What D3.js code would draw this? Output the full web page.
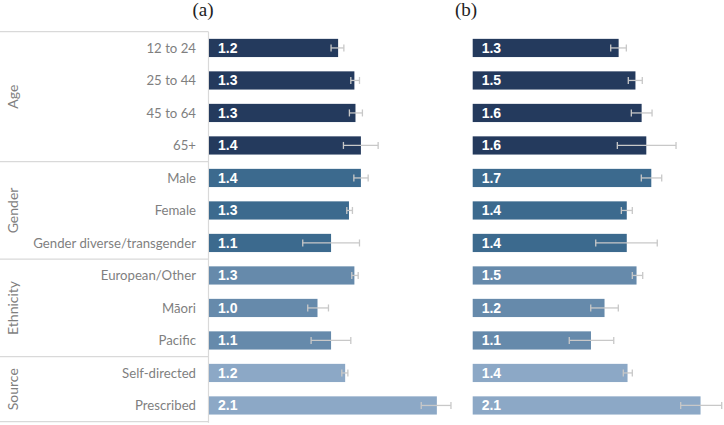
<!DOCTYPE html>
<html>
<head>
<meta charset="utf-8">
<script src="https://cdn.jsdelivr.net/npm/d3@7"></script>
<style>
  body { margin: 0; background: #fff; }
  .cat { font-family: Lato, "Open Sans", sans-serif; font-size: 13.2px; fill: #7f7f7f; }
  .grp { font-family: Lato, "Open Sans", sans-serif; font-size: 14px; fill: #7f7f7f; }
  .val { font-family: "Liberation Sans", Arial, sans-serif; font-size: 14px; font-weight: bold; fill: #fff; }
  .ttl { font-family: "Liberation Serif", "Times New Roman", serif; font-size: 19px; fill: #222; }
</style>
</head>
<body>
<svg id="chart" width="724" height="425"></svg>
<script>
// categories, top to bottom
const categories = ["12 to 24", "25 to 44", "45 to 64", "65+", "Male", "Female",
  "Gender diverse/transgender", "European/Other", "Māori", "Pacific", "Self-directed", "Prescribed"]
const groups = ["Age", "Age", "Age", "Age", "Gender", "Gender", "Gender",
  "Ethnicity", "Ethnicity", "Ethnicity", "Source", "Source"]
const groupNames = ["Age", "Gender", "Ethnicity", "Source"]
const groupColours = {"Age": "#243a5d", "Gender": "#3c6a8e", "Ethnicity": "#668aab", "Source": "#8ca8c6"}

// panel (a)
const valuesA = [1.19, 1.34, 1.35, 1.40, 1.40, 1.29, 1.125, 1.34, 1.00, 1.125, 1.255, 2.10]
const labelsA = ["1.2", "1.3", "1.3", "1.4", "1.4", "1.3", "1.1", "1.3", "1.0", "1.1", "1.2", "2.1"]
const lowA = [1.125, 1.307, 1.294, 1.239, 1.335, 1.270, 0.864, 1.316, 0.910, 0.941, 1.224, 1.956]
const highA = [1.243, 1.387, 1.414, 1.559, 1.467, 1.322, 1.387, 1.375, 1.101, 1.307, 1.280, 2.230]

// panel (b)
const valuesB = [1.345, 1.50, 1.557, 1.60, 1.646, 1.42, 1.42, 1.51, 1.215, 1.09, 1.427, 2.10]
const labelsB = ["1.3", "1.5", "1.6", "1.6", "1.7", "1.4", "1.4", "1.5", "1.2", "1.1", "1.4", "2.1"]
const lowB = [1.272, 1.434, 1.462, 1.333, 1.554, 1.370, 1.134, 1.471, 1.088, 0.890, 1.388, 1.917]
const highB = [1.416, 1.563, 1.653, 1.874, 1.742, 1.471, 1.701, 1.567, 1.342, 1.300, 1.471, 2.295]

const svg = d3.select("#chart")
const plotTop = 31.7, plotBottom = 421.7, axisX = 208.5

const y = d3.scaleBand()
  .domain(d3.range(categories.length))
  .range([plotTop, plotBottom])
  .paddingInner(0.44)
  .paddingOuter(0.22)
const step = y.step()

// left table lines
const lineCol = "#d9d9d9"
const bounds = [0]
groups.forEach((g, i) => { if (i > 0 && g !== groups[i - 1]) bounds.push(i) })
bounds.push(categories.length)
bounds.forEach(i => {
  svg.append("line")
    .attr("x1", 0).attr("x2", axisX)
    .attr("y1", plotTop + i * step).attr("y2", plotTop + i * step)
    .attr("stroke", lineCol).attr("stroke-width", 1.2)
})
svg.append("line")
  .attr("x1", axisX).attr("x2", axisX)
  .attr("y1", plotTop).attr("y2", plotBottom + 1)
  .attr("stroke", lineCol).attr("stroke-width", 1.2)

// group labels
groupNames.forEach(g => {
  const idx = d3.range(groups.length).filter(i => groups[i] === g)
  const cy = plotTop + (idx[0] + idx[idx.length - 1] + 1) / 2 * step
  svg.append("text").attr("class", "grp")
    .attr("transform", "translate(13," + cy + ") rotate(-90)")
    .attr("text-anchor", "middle").attr("dy", "0.35em")
    .text(g)
})

// category labels
svg.selectAll(".cat").data(categories).join("text")
  .attr("class", "cat")
  .attr("x", 196)
  .attr("y", (d, i) => y(i) + y.bandwidth() / 2)
  .attr("dy", "0.35em")
  .attr("text-anchor", "end")
  .text(d => d)

function panel(x0, title, titleX, values, labels, low, high) {
  const x = d3.scaleLinear().domain([0, 2.3]).range([x0, x0 + 2.3 * 108.5])
  const g = svg.append("g")
  const idx = d3.range(values.length)

  g.selectAll("rect").data(idx).join("rect")
    .attr("x", x(0))
    .attr("y", i => y(i))
    .attr("width", i => x(values[i]) - x(0))
    .attr("height", y.bandwidth())
    .attr("fill", i => groupColours[groups[i]])

  g.selectAll(".val").data(idx).join("text")
    .attr("class", "val")
    .attr("x", x(0) + 9)
    .attr("y", i => y(i) + y.bandwidth() / 2)
    .attr("dy", "0.36em")
    .text(i => labels[i])

  const eb = g.selectAll(".eb").data(idx).join("g").attr("class", "eb")
    .attr("stroke", "#c8c8c8").attr("stroke-width", 1.3)
  eb.append("line")
    .attr("x1", i => x(low[i])).attr("x2", i => x(high[i]))
    .attr("y1", i => y(i) + y.bandwidth() / 2).attr("y2", i => y(i) + y.bandwidth() / 2)
  eb.append("line")
    .attr("x1", i => x(low[i])).attr("x2", i => x(low[i]))
    .attr("y1", i => y(i) + y.bandwidth() / 2 - 3.5).attr("y2", i => y(i) + y.bandwidth() / 2 + 3.5)
  eb.append("line")
    .attr("x1", i => x(high[i])).attr("x2", i => x(high[i]))
    .attr("y1", i => y(i) + y.bandwidth() / 2 - 3.5).attr("y2", i => y(i) + y.bandwidth() / 2 + 3.5)

  svg.append("text").attr("class", "ttl")
    .attr("x", titleX).attr("y", 16)
    .attr("text-anchor", "middle")
    .text(title)
}

panel(209, "(a)", 203, valuesA, labelsA, lowA, highA)
panel(472.7, "(b)", 466, valuesB, labelsB, lowB, highB)
</script>
</body>
</html>
